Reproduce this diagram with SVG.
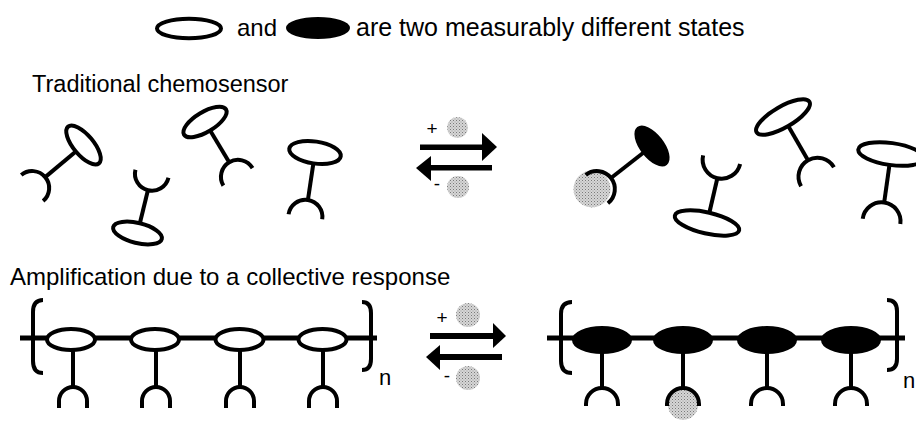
<svg xmlns="http://www.w3.org/2000/svg" width="916" height="421" viewBox="0 0 916 421">
  <defs>
    <style>
      .txt { font-family: "Liberation Sans", Arial, sans-serif; fill: #000; }
      .ring { fill: none; stroke: #000; stroke-width: 4; }
      .ring-open { fill: #fff; stroke: #000; stroke-width: 4; }
      .ring-on { fill: #000; stroke: #000; stroke-width: 2; }
      .stem { stroke: #000; stroke-width: 4; stroke-linecap: butt; }
      .cup { fill: none; stroke: #000; stroke-width: 4; stroke-linecap: butt; }
      .chain { stroke: #000; stroke-width: 5; }
      .bracket { fill: none; stroke: #000; stroke-width: 4; }
      .analyte { fill: url(#stipple); }
      .head { fill: #000; }
    </style>
    <!-- halftone stipple used for the analyte balls -->
    <pattern id="stipple" width="3" height="3" patternUnits="userSpaceOnUse">
      <rect width="3" height="3" fill="#d6d6d6"/>
      <rect x="0" y="0" width="1" height="1" fill="#7a7a7a"/>
      <rect x="1.5" y="1.5" width="1" height="1" fill="#9a9a9a"/>
    </pattern>
  </defs>

  <rect width="916" height="421" fill="#fff"/>

  <!-- legend -->
  <g id="legend">
    <ellipse class="ring" cx="189" cy="28.5" rx="32" ry="9.8"/>
    <text class="txt" x="237" y="36" font-size="24">and</text>
    <ellipse class="ring-on" cx="318" cy="28" rx="31" ry="10"/>
    <text class="txt" x="356" y="36" font-size="25">are two measurably different states</text>
  </g>

  <g id="title-traditional">
    <text class="txt" x="32" y="92" font-size="23.5">Traditional chemosensor</text>
  </g>
  <g id="title-amplification">
    <text class="txt" x="10" y="285" font-size="24">Amplification due to a collective response</text>
  </g>

  <!-- free receptors, unbound state -->
  <g id="sensor-l1" transform="translate(83.5,145) rotate(50)">
    <ellipse class="ring" rx="24" ry="10"/>
    <line class="stem" x1="0" y1="10" x2="0" y2="50"/>
    <path class="cup" d="M-17,67 A17,17 0 0 1 17,67"/>
  </g>
  <g id="sensor-l2" transform="translate(137.5,233) rotate(-166.3)">
    <ellipse class="ring" rx="25" ry="10"/>
    <line class="stem" x1="0" y1="10" x2="0" y2="44"/>
    <path class="cup" d="M-17,61 A17,17 0 0 1 17,61"/>
  </g>
  <g id="sensor-l3" transform="translate(205,122) rotate(-31)">
    <ellipse class="ring" rx="24.5" ry="10"/>
    <line class="stem" x1="0" y1="10" x2="0" y2="47"/>
    <path class="cup" d="M-17,64 A17,17 0 0 1 17,64"/>
  </g>
  <g id="sensor-l4" transform="translate(315,152.5) rotate(8.5)">
    <ellipse class="ring" rx="26" ry="11"/>
    <line class="stem" x1="0" y1="11" x2="0" y2="48"/>
    <path class="cup" d="M-17,65 A17,17 0 0 1 17,65"/>
  </g>

  <!-- receptors after analyte addition -->
  <g id="sensor-r1">
    <circle class="analyte" cx="592" cy="189" r="18.5"/>
    <g transform="translate(652,146) rotate(52)">
      <ellipse class="ring-on" rx="23" ry="11"/>
      <line class="stem" x1="0" y1="11" x2="0" y2="52"/>
      <path class="cup" d="M-18,70 A18,18 0 0 1 18,70"/>
    </g>
  </g>
  <g id="sensor-r2" transform="translate(707,223) rotate(-167)">
    <ellipse class="ring" rx="33" ry="10.5"/>
    <line class="stem" x1="0" y1="10.5" x2="0" y2="46"/>
    <path class="cup" d="M-19,65 A19,19 0 0 1 19,65"/>
  </g>
  <g id="sensor-r3" transform="translate(783,117) rotate(-30)">
    <ellipse class="ring" rx="30.5" ry="10.5"/>
    <line class="stem" x1="0" y1="10.5" x2="0" y2="50"/>
    <path class="cup" d="M-19,69 A19,19 0 0 1 19,69"/>
  </g>
  <g id="sensor-r4" transform="translate(891,154) rotate(8)">
    <ellipse class="ring" rx="33" ry="11"/>
    <line class="stem" x1="0" y1="11" x2="0" y2="49"/>
    <path class="cup" d="M-19,68 A19,19 0 0 1 19,68"/>
  </g>

  <!-- polymer, unbound -->
  <g id="polymer-left">
    <line class="chain" x1="20" y1="338" x2="377" y2="338"/>
    <path class="bracket" d="M43,300 Q33,300 33,312 L33,361 Q33,373 43,373"/>
    <path class="bracket" d="M362,302 Q371,302 371,313 L371,359 Q371,370 362,370"/>
    <text class="txt" x="379" y="385" font-size="22">n</text>
    <g id="unit-l1">
      <ellipse class="ring-open" cx="71" cy="339.5" rx="24" ry="10.5"/>
      <line class="stem" x1="73" y1="350" x2="73" y2="386"/>
      <path class="cup" d="M59,408 L59,401 A14,14 0 0 1 87,401 L87,408"/>
    </g>
    <g id="unit-l2">
      <ellipse class="ring-open" cx="155" cy="339.5" rx="24" ry="10.5"/>
      <line class="stem" x1="156" y1="350" x2="156" y2="386"/>
      <path class="cup" d="M142,408 L142,401 A14,14 0 0 1 170,401 L170,408"/>
    </g>
    <g id="unit-l3">
      <ellipse class="ring-open" cx="239.5" cy="339.5" rx="24" ry="10.5"/>
      <line class="stem" x1="240" y1="350" x2="240" y2="386"/>
      <path class="cup" d="M226,408 L226,401 A14,14 0 0 1 254,401 L254,408"/>
    </g>
    <g id="unit-l4">
      <ellipse class="ring-open" cx="322.5" cy="339.5" rx="24" ry="10.5"/>
      <line class="stem" x1="323" y1="350" x2="323" y2="386"/>
      <path class="cup" d="M309,408 L309,401 A14,14 0 0 1 337,401 L337,408"/>
    </g>
  </g>

  <!-- polymer, all units switched -->
  <g id="polymer-right">
    <line class="chain" x1="547" y1="338" x2="905" y2="338"/>
    <path class="bracket" d="M572,302 Q561,302 561,314 L561,361 Q561,373 572,373"/>
    <path class="bracket" d="M887,300 Q897,300 897,311 L897,359 Q897,370 887,370"/>
    <text class="txt" x="903" y="388" font-size="22">n</text>
    <circle class="analyte" cx="683" cy="405" r="15"/>
    <g id="unit-r1">
      <ellipse class="ring-on" cx="602" cy="340" rx="29" ry="13"/>
      <line class="stem" x1="602" y1="352" x2="602" y2="388"/>
      <path class="cup" d="M586,406 L586,404 A16,16 0 0 1 618,404 L618,406"/>
    </g>
    <g id="unit-r2">
      <ellipse class="ring-on" cx="683" cy="340" rx="29" ry="13"/>
      <line class="stem" x1="683" y1="352" x2="683" y2="388"/>
      <path class="cup" d="M667,406 L667,404 A16,16 0 0 1 699,404 L699,406"/>
    </g>
    <g id="unit-r3">
      <ellipse class="ring-on" cx="767" cy="340" rx="29" ry="13"/>
      <line class="stem" x1="767" y1="352" x2="767" y2="388"/>
      <path class="cup" d="M751,406 L751,404 A16,16 0 0 1 783,404 L783,406"/>
    </g>
    <g id="unit-r4">
      <ellipse class="ring-on" cx="851" cy="340" rx="29" ry="13"/>
      <line class="stem" x1="851" y1="352" x2="851" y2="388"/>
      <path class="cup" d="M835,406 L835,404 A16,16 0 0 1 867,404 L867,406"/>
    </g>
  </g>

  <!-- equilibrium arrows -->
  <g id="connectors">
    <g id="eq-top">
      <text class="txt" x="432" y="135" font-size="19" text-anchor="middle">+</text>
      <circle class="analyte" cx="457.5" cy="127.5" r="10.5"/>
      <rect x="420" y="144.5" width="63" height="5.5"/>
      <polygon class="head" points="482,133 497,147 482,161"/>
      <rect x="430" y="165" width="62" height="5.5"/>
      <polygon class="head" points="431,156 416,168 431,181"/>
      <text class="txt" x="437" y="190" font-size="19" text-anchor="middle">-</text>
      <circle class="analyte" cx="458" cy="187" r="11"/>
    </g>
    <g id="eq-bottom">
      <text class="txt" x="442" y="324" font-size="19" text-anchor="middle">+</text>
      <circle class="analyte" cx="468" cy="315" r="12"/>
      <rect x="430" y="333" width="64" height="6"/>
      <polygon class="head" points="493,323 506,336 493,348"/>
      <rect x="440" y="354" width="62" height="6"/>
      <polygon class="head" points="440,345 426,357 440,370"/>
      <text class="txt" x="447" y="382" font-size="19" text-anchor="middle">-</text>
      <circle class="analyte" cx="468" cy="378" r="12"/>
    </g>
  </g>
</svg>
